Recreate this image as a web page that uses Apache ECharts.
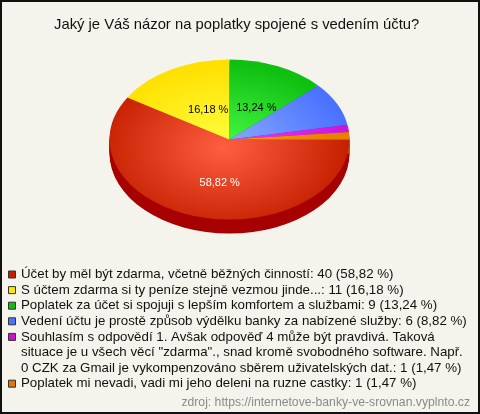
<!DOCTYPE html>
<html><head><meta charset="utf-8">
<script src="https://cdn.jsdelivr.net/npm/echarts@6/dist/echarts.min.js"></script>
<style>html,body{margin:0;padding:0;background:#f4f4ec}#c{width:480px;height:414px}</style>
</head><body><div id="c"></div>
<script>
// ---- data ----
const titleText = 'Jaký je Váš názor na poplatky spojené s vedením účtu?';
const categories = [
  'Účet by měl být zdarma, včetně běžných činností',
  'S účtem zdarma si ty peníze stejně vezmou jinde...',
  'Poplatek za účet si spojuji s lepším komfortem a službami',
  'Vedení účtu je prostě způsob výdělku banky za nabízené služby',
  'Souhlasím s odpovědí 1. Avšak odpověď 4 může být pravdivá. Taková situace je u všech věcí "zdarma"., snad kromě svobodného software. Např. 0 CZK za Gmail je vykompenzováno sběrem uživatelských dat.',
  'Poplatek mi nevadi, vadi mi jeho deleni na ruzne castky'
];
const counts = [40, 11, 9, 6, 1, 1];
const sourceText = 'zdroj: https://internetove-banky-ve-srovnan.vyplnto.cz';

// ---- styles ----
const innerColors = ['#ff5e40', '#ffff40', '#48fa48', '#8cacff', '#ec40f4', '#ff9414'];
const outerColors = ['#c42000', '#ffe000', '#10c010', '#4a72ff', '#cc14dc', '#e67e00'];
const sideColors  = ['#a60000', '#c8ae00', '#0a8c0a', '#2c50c0', '#900ca0', '#b05800'];
const markerColors = ['#c81e00', '#ffe800', '#10c010', '#4c74ff', '#cc10cc', '#e07800'];
const labelColors = ['#ffffff', '#000000', '#000000', '#000000', '#000000', '#000000'];
const FONT = '"Liberation Sans", Arial, sans-serif';

const total = counts.reduce((a, b) => a + b, 0);
const starts = []; let acc = 0; counts.forEach(v => { starts.push(acc); acc += v; });
const pct = v => (v / total * 100).toFixed(2).replace('.', ',') + ' %';

const CX = 229.5, CY = 139.5, RX = 120, RY = 80, DEPTH = 14;
const SY = RY / RX;

function angles(i, v) {
  return [starts[i] / total * Math.PI * 2, (starts[i] + v) / total * Math.PI * 2];
}
function grad(i) {
  return new echarts.graphic.RadialGradient(-6, 12, RX * 1.05, [
    { offset: 0, color: innerColors[i] }, { offset: 1, color: outerColors[i] }
  ], true);
}

function renderSide(params, api) {
  const i = params.dataIndex, v = api.value(0);
  const [a0, a1] = angles(i, v);
  const children = [];
  for (let d = 2; d <= DEPTH; d += 2) {
    children.push({
      type: 'sector', x: CX, y: CY + d, scaleY: SY, silent: true,
      shape: { cx: 0, cy: 0, r0: 0, r: RX, startAngle: a0, endAngle: a1, clockwise: true },
      style: { fill: sideColors[i] }
    });
  }
  return { type: 'group', children };
}
function renderTop(params, api) {
  const i = params.dataIndex, v = api.value(0);
  const [a0, a1] = angles(i, v);
  const children = [{
    type: 'sector', x: CX, y: CY, scaleY: SY, silent: true,
    shape: { cx: 0, cy: 0, r0: 0, r: RX, startAngle: a0, endAngle: a1, clockwise: true },
    style: { fill: grad(i) }
  }];
  if (v / total >= 0.1) {
    const mid = (a0 + a1) / 2;
    children.push({
      type: 'text', silent: true, z2: 10,
      x: CX + RX * 0.45 * Math.cos(mid) + 5,
      y: CY + RY * 0.5 * Math.sin(mid) + 5,
      style: { text: pct(v), fill: labelColors[i], font: '11px ' + FONT, align: 'center', verticalAlign: 'middle' }
    });
  }
  return { type: 'group', children };
}

// wrap legend text by measured width
const mctx = document.createElement('canvas').getContext('2d');
const LFONT = '13.3px ' + FONT;
mctx.font = LFONT;
function wrap(text, maxW) {
  const words = text.split(' ');
  const lines = []; let cur = '';
  words.forEach(w => {
    const t = cur ? cur + ' ' + w : w;
    if (mctx.measureText(t).width > maxW && cur) { lines.push(cur); cur = w; } else cur = t;
  });
  if (cur) lines.push(cur);
  return lines;
}

const legendEls = [];
const LH = 15.6; let lineIdx = 0; const firstCenter = 274.5;
categories.forEach((name, i) => {
  const lines = wrap(name + ': ' + counts[i] + ' (' + pct(counts[i]) + ')', 447);
  const c = firstCenter + lineIdx * LH;
  legendEls.push({
    type: 'rect', shape: { x: 8.5, y: c - 3.5, width: 7, height: 7 },
    style: { fill: markerColors[i], stroke: '#333', lineWidth: 1 }
  });
  legendEls.push({
    type: 'text', x: 21, y: c - LH / 2,
    style: { text: lines.join('\n'), font: LFONT, fill: '#111', lineHeight: LH, verticalAlign: 'top' }
  });
  lineIdx += lines.length;
});

const chart = echarts.init(document.getElementById('c'), null, { renderer: 'canvas' });
chart.setOption({
  backgroundColor: '#f4f4ec',
  animation: false,
  title: {
    text: titleText, left: 49, top: 12,
    textStyle: { fontSize: 14.8, fontWeight: 'normal', color: '#111', fontFamily: FONT }
  },
  series: [
    { type: 'custom', coordinateSystem: 'none', z: 1, data: counts, renderItem: renderSide },
    { type: 'custom', coordinateSystem: 'none', z: 2, data: counts, renderItem: renderTop }
  ],
  graphic: [
    { type: 'rect', shape: { x: 1, y: 1, width: 478, height: 412 }, style: { fill: null, stroke: '#111', lineWidth: 2 }, silent: true },
    ...legendEls,
    { type: 'text', x: 470, y: 403, style: { text: sourceText, font: '12.2px ' + FONT, fill: '#8a8a8a', align: 'right', verticalAlign: 'middle' } }
  ]
});
</script></body></html>
